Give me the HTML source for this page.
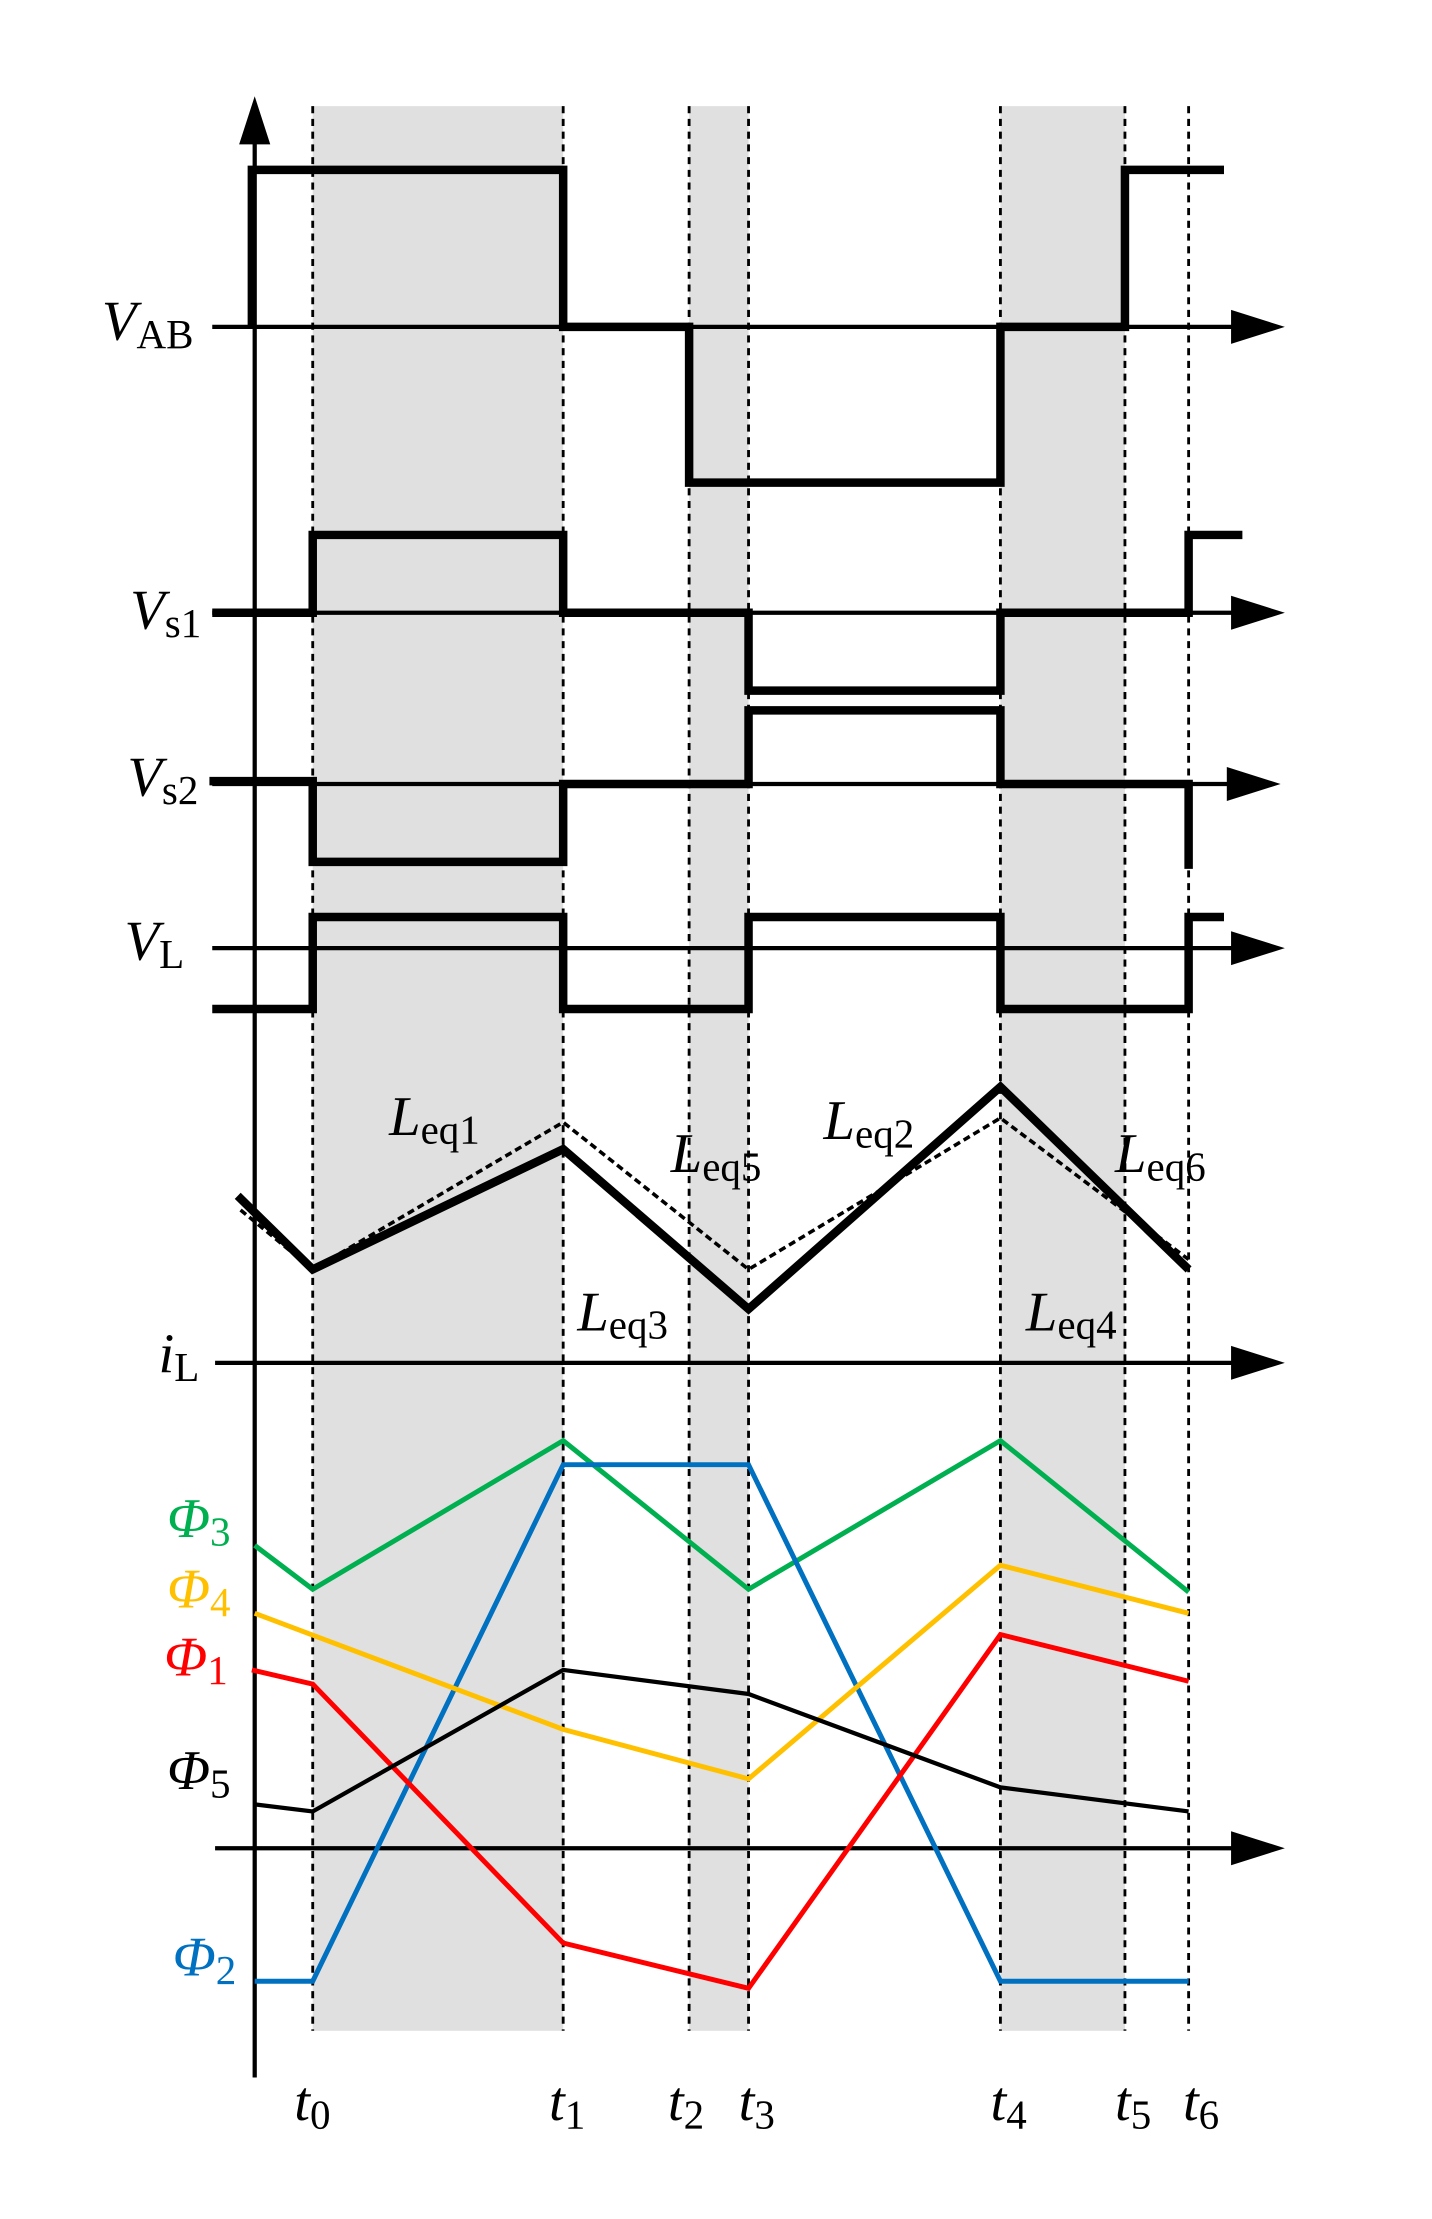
<!DOCTYPE html>
<html><head><meta charset="utf-8"><style>html,body{margin:0;padding:0;background:#fff}svg{display:block}</style></head>
<body>
<svg width="1432" height="2219" viewBox="0 0 1012 1568" preserveAspectRatio="none" xmlns="http://www.w3.org/2000/svg" font-family="Liberation Serif, serif">
<rect width="1024" height="1587" fill="#fff"/>
<g fill="#e0e0e0">
<rect x="221" y="75" width="177" height="1360"/>
<rect x="487" y="75" width="42" height="1360"/>
<rect x="707" y="75" width="88" height="1360"/>
</g>
<g stroke="#000" stroke-width="2" stroke-dasharray="5,4">
<line x1="221" y1="75" x2="221" y2="1435"/><line x1="398" y1="75" x2="398" y2="1435"/>
<line x1="487" y1="75" x2="487" y2="1435"/><line x1="529" y1="75" x2="529" y2="1435"/>
<line x1="707" y1="75" x2="707" y2="1435"/><line x1="795" y1="75" x2="795" y2="1435"/>
<line x1="840" y1="75" x2="840" y2="1435"/>
</g>
<g stroke="#000" stroke-width="3">
<line x1="180" y1="95" x2="180" y2="1468"/>
<line x1="150" y1="231" x2="875" y2="231"/>
<line x1="150" y1="433" x2="875" y2="433"/>
<line x1="150" y1="554" x2="872" y2="554"/>
<line x1="150" y1="670" x2="875" y2="670"/>
<line x1="152" y1="963" x2="875" y2="963"/>
<line x1="152" y1="1306" x2="875" y2="1306"/>
</g>
<g fill="#000">
<polygon points="180,68 169,102 191,102"/>
<polygon points="908,231 870,219 870,243"/>
<polygon points="908,433 870,421 870,445"/>
<polygon points="905,554 867,542 867,566"/>
<polygon points="908,670 870,658 870,682"/>
<polygon points="908,963 870,951 870,975"/>
<polygon points="908,1306 870,1294 870,1318"/>
</g>
<g fill="none" stroke="#000" stroke-width="6" stroke-linejoin="miter">
<polyline points="178,231 178,120 398,120 398,231 487,231 487,341 707,341 707,231 795,231 795,120 865,120"/>
<polyline points="150,433 221,433 221,378 398,378 398,433 529,433 529,488 707,488 707,433 840,433 840,378 878,378"/>
<polyline points="148,552 221,552 221,609 398,609 398,554 529,554 529,502 707,502 707,554 840,554 840,614"/>
<polyline points="150,713 221,713 221,648 398,648 398,713 529,713 529,648 707,648 707,713 840,713 840,648 865,648"/>
<polyline points="168,845 221,897 398,812 529,925 707,768 840,897"/>
</g>
<polyline points="170,855 221,897 398,793 529,897 707,790 840,890" fill="none" stroke="#000" stroke-width="2.5" stroke-dasharray="5,3"/>
<g fill="none" stroke-width="3.5">
<polyline stroke="#00b050" points="180,1092 221,1123 398,1018 529,1123 707,1018 840,1125"/>
<polyline stroke="#0070c0" points="180,1400 221,1400 398,1035 529,1035 707,1400 840,1400"/>
<polyline stroke="#ffc000" points="180,1140 398,1222 529,1257 707,1106 840,1140"/>
<polyline stroke="#ff0000" points="178,1180 221,1190 398,1373 529,1405 707,1155 840,1188"/>
<polyline stroke="#000" stroke-width="3" points="180,1275 221,1280 398,1180 529,1197 707,1263 840,1280"/>
</g>
<g font-size="40" font-style="italic">
<text x="72" y="240">V<tspan font-style="normal" font-size="29" dy="6">AB</tspan></text>
<text x="92" y="444">V<tspan font-style="normal" font-size="29" dy="6">s1</tspan></text>
<text x="90" y="562">V<tspan font-style="normal" font-size="29" dy="6">s2</tspan></text>
<text x="88" y="678">V<tspan font-style="normal" font-size="29" dy="6">L</tspan></text>
<text x="112" y="970">i<tspan font-style="normal" font-size="29" dy="6">L</tspan></text>
<text x="275" y="802">L<tspan font-style="normal" font-size="29" dy="6">eq1</tspan></text>
<text x="474" y="828">L<tspan font-style="normal" font-size="29" dy="6">eq5</tspan></text>
<text x="582" y="805">L<tspan font-style="normal" font-size="29" dy="6">eq2</tspan></text>
<text x="788" y="828">L<tspan font-style="normal" font-size="29" dy="6">eq6</tspan></text>
<text x="408" y="940">L<tspan font-style="normal" font-size="29" dy="6">eq3</tspan></text>
<text x="725" y="940">L<tspan font-style="normal" font-size="29" dy="6">eq4</tspan></text>
<text x="118" y="1086" fill="#00b050">Φ<tspan font-style="normal" font-size="29" dy="6">3</tspan></text>
<text x="118" y="1136" fill="#ffc000">Φ<tspan font-style="normal" font-size="29" dy="6">4</tspan></text>
<text x="116" y="1184" fill="#ff0000">Φ<tspan font-style="normal" font-size="29" dy="6">1</tspan></text>
<text x="118" y="1264" fill="#000">Φ<tspan font-style="normal" font-size="29" dy="6">5</tspan></text>
<text x="122" y="1396" fill="#0070c0">Φ<tspan font-style="normal" font-size="29" dy="6">2</tspan></text>
<text x="208" y="1498">t<tspan font-style="normal" font-size="29" dy="6">0</tspan></text>
<text x="388" y="1498">t<tspan font-style="normal" font-size="29" dy="6">1</tspan></text>
<text x="472" y="1498">t<tspan font-style="normal" font-size="29" dy="6">2</tspan></text>
<text x="522" y="1498">t<tspan font-style="normal" font-size="29" dy="6">3</tspan></text>
<text x="700" y="1498">t<tspan font-style="normal" font-size="29" dy="6">4</tspan></text>
<text x="788" y="1498">t<tspan font-style="normal" font-size="29" dy="6">5</tspan></text>
<text x="836" y="1498">t<tspan font-style="normal" font-size="29" dy="6">6</tspan></text>
</g>
</svg>
</body></html>
